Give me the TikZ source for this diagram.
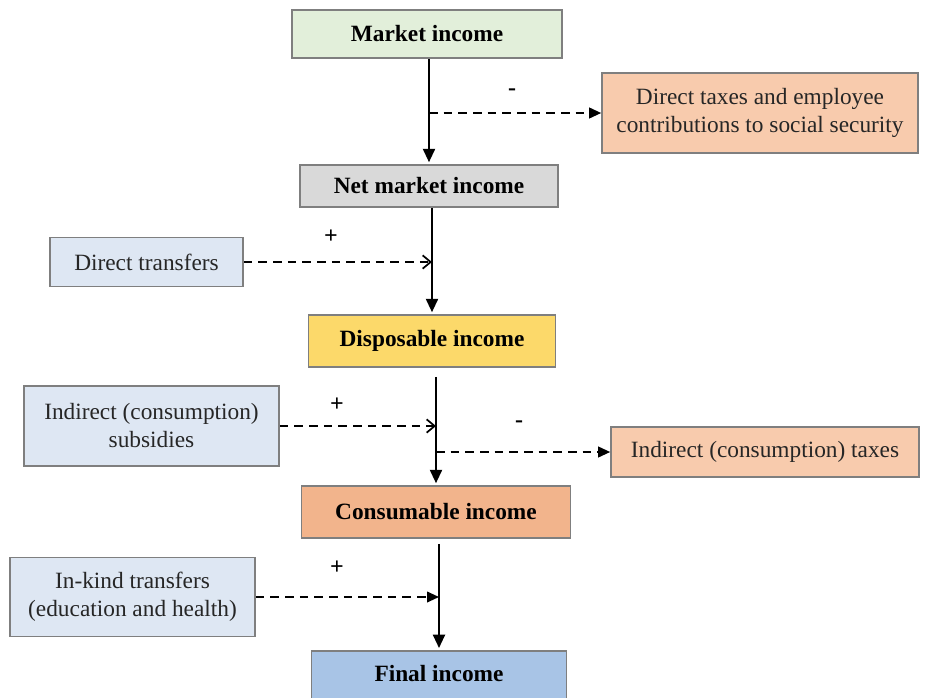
\documentclass[tikz,border=0pt]{standalone}
\usepackage{fontspec}
\setmainfont{Liberation Serif}
\usetikzlibrary{arrows.meta,calc}
\definecolor{cgreen}{HTML}{E2EFDA}
\definecolor{cgray}{HTML}{D9D9D9}
\definecolor{cyellow}{HTML}{FCD96A}
\definecolor{corange}{HTML}{F2B48C}
\definecolor{cpeach}{HTML}{F8CBAD}
\definecolor{cblue}{HTML}{A8C4E6}
\definecolor{clblue}{HTML}{DEE7F3}
\definecolor{cborder}{HTML}{7F7F7F}
\definecolor{ctext}{HTML}{262626}
\tikzset{
  box/.style={draw=cborder, line width=1.2pt, align=center, inner sep=2pt,
    font=\fontsize{17.5pt}{21pt}\selectfont, text=ctext},
  mainbox/.style={box, font=\fontsize{17.5pt}{21pt}\selectfont\bfseries, text=black},
  flow/.style={line width=1.5pt, -{Triangle[length=10pt,width=9pt]}},
  dflow/.style={line width=1.4pt, dash pattern=on 6.5pt off 4.5pt, -{Triangle[length=9pt,width=8pt]}},
  oflow/.style={line width=1.4pt, dash pattern=on 6.5pt off 4.5pt, -{Straight Barb[length=6pt,width=10pt,line width=1.3pt]}},
  sign/.style={font=\fontsize{18pt}{20pt}\selectfont\bfseries, inner sep=0pt}
}
\begin{document}
\begin{tikzpicture}[x=0.75pt,y=-0.75pt]
\useasboundingbox (0,0) rectangle (925,697);
% main chain
\node[mainbox, fill=cgreen, minimum width=202.5pt, minimum height=36pt] (mi) at (427,34) {Market income};
\node[mainbox, fill=cgray, minimum width=193.5pt, minimum height=31.5pt] (nmi) at (429,186) {Net market income};
\node[mainbox, fill=cyellow, minimum width=185pt, minimum height=39pt] (di) at (432,341) {Disposable income};
\node[mainbox, fill=corange, minimum width=201.75pt, minimum height=39pt] (ci) at (436,512) {Consumable income};
\node[mainbox, fill=cblue, minimum width=191.25pt, minimum height=45pt, anchor=north, text depth=10.5pt] (fi) at (439,650) {Final income};
% side boxes
\node[box, fill=cpeach, minimum width=237pt, minimum height=60pt] (dt) at (760,113) {Direct taxes and employee\\contributions to social security};
\node[box, fill=clblue, minimum width=144.75pt, minimum height=36.75pt] (dtr) at (146.5,262) {Direct transfers};
\node[box, fill=clblue, minimum width=191.25pt, minimum height=60pt] (ics) at (151.5,426) {Indirect (consumption)\\subsidies};
\node[box, fill=cpeach, minimum width=231pt, minimum height=37.5pt] (it) at (765,452) {Indirect (consumption) taxes};
\node[box, fill=clblue, minimum width=183.75pt, minimum height=59.25pt] (ikt) at (132.5,597) {In-kind transfers\\(education and health)};
% main arrows
\draw[flow] (nmi.north |- mi.south) -- ([yshift=1.5pt]nmi.north);
\draw[flow] (di.north |- nmi.south) -- ([yshift=1.5pt]di.north);
\coordinate (c3top) at ($(di.south)+(1.5,9)$);
\draw[flow] (ci.north |- c3top) -- ([yshift=1.5pt]ci.north);
\coordinate (c4top) at ($(ci.south)+(0,5)$);
\draw[flow] (fi.north |- c4top) -- ([yshift=1.5pt]fi.north);
% dashed arrows
\draw[dflow] (nmi.north |- dt.west) -- (dt.west);
\draw[oflow] (dtr.east) -- (dtr.east -| di.north);
\draw[oflow] (ics.east) -- (ics.east -| ci.north);
\draw[dflow] (ci.north |- it.west) -- (it.west);
\draw[dflow] (ikt.east) -- (ikt.east -| fi.north);
% signs
\node[sign] (s1) at (512,92) {-};
\node[sign] (s2) at (331,237) {+};
\node[sign] (s3) at (337,405) {+};
\node[sign] (s4) at (519,424) {-};
\node[sign] (s5) at (337,568) {+};
\end{tikzpicture}
\end{document}
